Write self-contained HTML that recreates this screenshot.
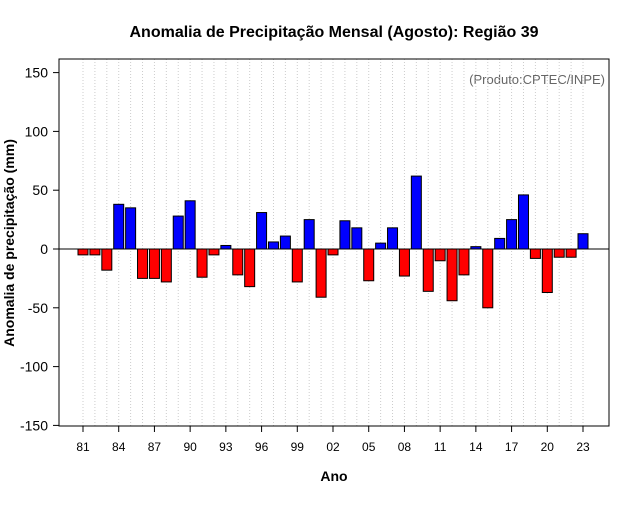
<!DOCTYPE html>
<html><head><meta charset="utf-8"><style>
body{margin:0;background:#fff;}
svg text{font-family:"Liberation Sans",sans-serif;}
</style></head><body>
<svg id="chart" width="640" height="500">
<text x="334" y="37" text-anchor="middle" font-size="16" font-weight="bold">Anomalia de Precipitação Mensal (Agosto): Região 39</text>
<text x="605" y="84" text-anchor="end" font-size="13" fill="#666">(Produto:CPTEC/INPE)</text>
<text x="334" y="481" text-anchor="middle" font-size="14" font-weight="bold">Ano</text>
<text transform="translate(14,243) rotate(-90)" text-anchor="middle" font-size="14" font-weight="bold">Anomalia de precipitação (mm)</text>
<g id="grid"></g><g id="bars"></g><g id="axes"></g>
<rect x="59" y="59" width="550" height="367" fill="none" stroke="#000"/>
</svg>
<script>
const years=[1981,1982,1983,1984,1985,1986,1987,1988,1989,1990,1991,1992,1993,1994,1995,1996,1997,1998,1999,2000,2001,2002,2003,2004,2005,2006,2007,2008,2009,2010,2011,2012,2013,2014,2015,2016,2017,2018,2019,2020,2021,2022,2023];
const values=[-5,-5,-18,38,35,-25,-25,-28,28,41,-24,-5,3,-22,-32,31,6,11,-28,25,-41,-5,24,18,-27,5,18,-23,62,-36,-10,-44,-22,2,-50,9,25,46,-8,-37,-7,-7,13];
const yTicks=[-150,-100,-50,0,50,100,150];
const xTickYears=[1981,1984,1987,1990,1993,1996,1999,2002,2005,2008,2011,2014,2017,2020,2023];
const NS="http://www.w3.org/2000/svg";
const xs=y=>83+(y-1981)*11.905;
const ys=v=>249-v*1.176;
function mk(t,a,p){const e=document.createElementNS(NS,t);for(const k in a)e.setAttribute(k,a[k]);p.appendChild(e);return e;}
const grid=document.getElementById('grid'),bars=document.getElementById('bars'),axes=document.getElementById('axes');
years.forEach(y=>{const l=mk('line',{x1:xs(y),x2:xs(y),y1:59,y2:426,stroke:'#ccc','stroke-dasharray':'1,2'},grid);

});
years.forEach((y,i)=>{const v=values[i];const r=mk('rect',{x:xs(y)-5,y:Math.min(ys(v),ys(0)),width:10,height:Math.abs(ys(v)-ys(0)),fill:v>=0?'#0000ff':'#ff0000',stroke:'#000','stroke-width':1},bars);

});
const z=mk('line',{x1:59,x2:609,y1:ys(0),y2:ys(0),stroke:'#000'},bars);


yTicks.forEach(v=>{mk('line',{x1:53,x2:59,y1:ys(v),y2:ys(v),stroke:'#000'},axes);
const t=mk('text',{x:48,y:ys(v)+5,'text-anchor':'end','font-size':14},axes);t.textContent=v;

});
xTickYears.forEach(y=>{mk('line',{x1:xs(y),x2:xs(y),y1:426,y2:432,stroke:'#000'},axes);
const t=mk('text',{x:xs(y),y:451,'text-anchor':'middle','font-size':12},axes);t.textContent=String(y).slice(2);

});
</script>
</body></html>
